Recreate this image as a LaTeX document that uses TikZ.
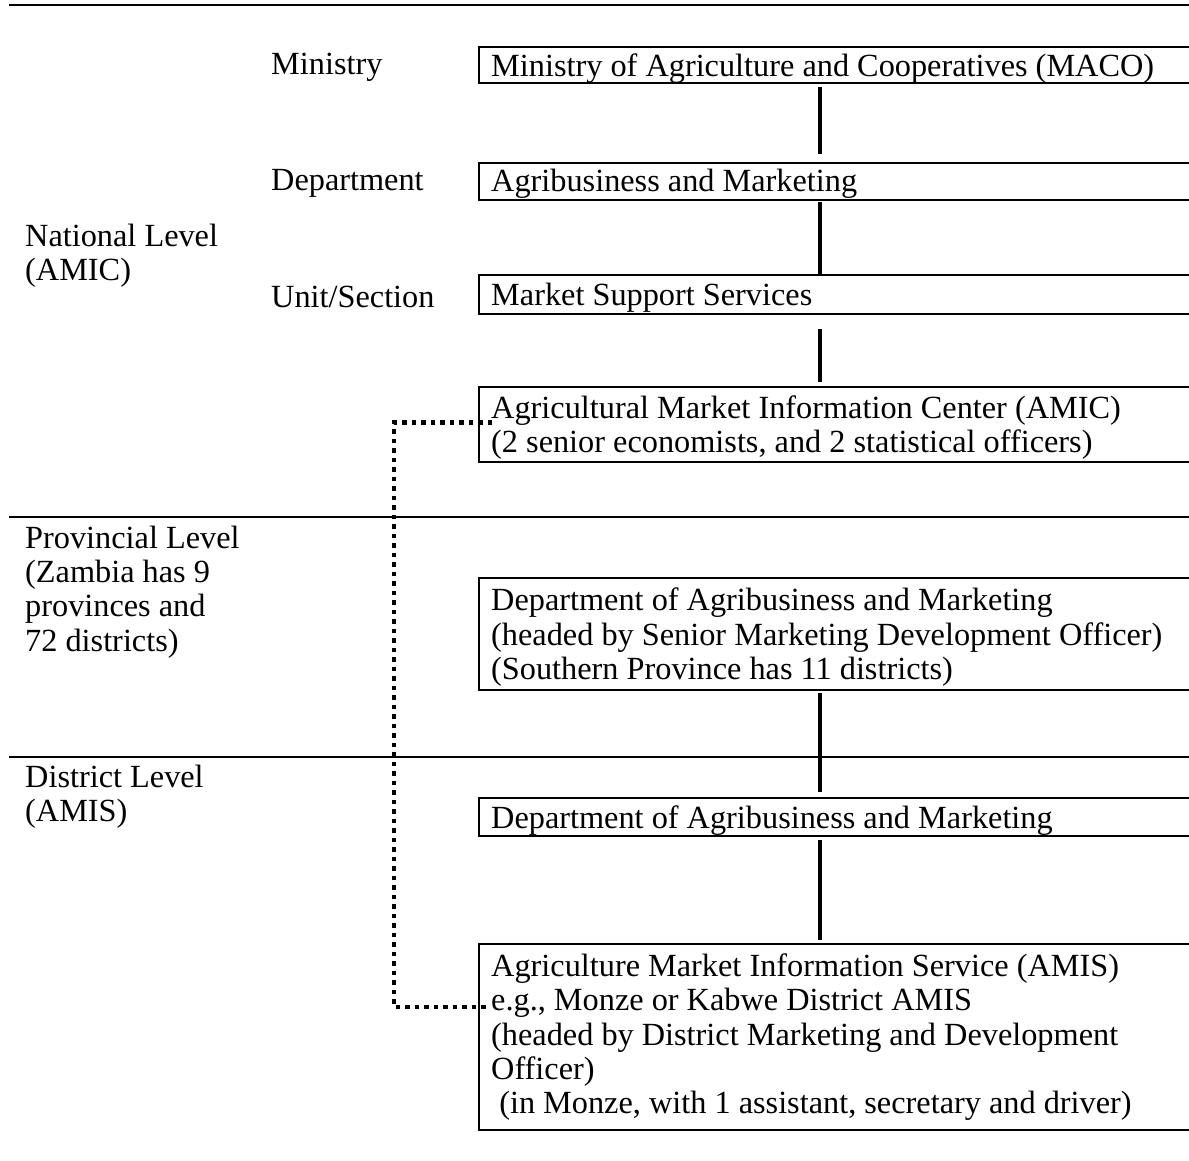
\documentclass[tikz,border=0pt]{standalone}
\usepackage{fontspec}
\setmainfont{Liberation Serif}
\newcommand{\fsz}{\fontsize{32.3pt}{34.4pt}\selectfont}
\begin{document}
\begin{tikzpicture}[x=1pt,y=-1pt,
  box/.style={draw, line width=2.3pt, anchor=north west, minimum width=726pt, inner sep=0pt},
  txt/.style={anchor=west, inner sep=0pt, align=left, font=\fsz},
  lab/.style={anchor=west, inner sep=0pt, align=left, font=\fsz},
  conn/.style={line width=4.2pt},
  rule/.style={line width=2.3pt},
  dotline/.style={line width=4.5pt, dash pattern=on 4.5pt off 5pt}]
\useasboundingbox (0,0) rectangle (1189,1160);
% section rules
\draw[rule] (9,5) -- (1200,5);
\draw[rule] (9,517) -- (1200,517);
\draw[rule] (9,757) -- (1200,757);
% boxes
\node[box, minimum height=36pt] (b1) at (478,46) {};
\node[box, minimum height=37pt] (b2) at (478,162) {};
\node[box, minimum height=39pt] (b3) at (478,274) {};
\node[box, minimum height=75pt] (b4) at (478,386) {};
\node[box, minimum height=112pt] (b5) at (478,577) {};
\node[box, minimum height=38pt] (b6) at (478,797) {};
\node[box, minimum height=186pt] (b7) at (478,943) {};
% box texts
\node[txt] (t1) at ([xshift=13pt,yshift=-3pt]b1.west) {Ministry of Agriculture and Cooperatives (MACO)};
\node[txt] (t2) at ([xshift=13pt,yshift=-2pt]b2.west) {Agribusiness and Marketing};
\node[txt] (t3) at ([xshift=13pt,yshift=-3pt]b3.west) {Market Support Services};
\node[txt] (t4) at ([xshift=13pt,yshift=-3pt]b4.west) {Agricultural Market Information Center (AMIC)\\(2 senior economists, and 2 statistical officers)};
\node[txt] (t5) at ([xshift=13pt,yshift=-3pt]b5.west) {Department of Agribusiness and Marketing\\(headed by Senior Marketing Development Officer)\\(Southern Province has 11 districts)};
\node[txt] (t6) at ([xshift=13pt,yshift=-3pt]b6.west) {Department of Agribusiness and Marketing};
\node[txt] (t7) at ([xshift=13pt,yshift=0pt]b7.west) {Agriculture Market Information Service (AMIS)\\e.g., Monze or Kabwe District AMIS\\(headed by District Marketing and Development\\Officer)\\\hspace*{0.25em}(in Monze, with 1 assistant, secretary and driver)};
% labels
\node[lab] (lm) at (271,67) {Ministry};
\node[lab] (ld) at (271,183) {Department};
\node[lab] (lu) at (271,297) {Unit/Section};
\node[lab] (ln) at (25,256) {National Level\\(AMIC)};
\node[lab] (lp) at (25,592) {Provincial Level\\(Zambia has 9\\provinces and\\72 districts)};
\node[lab] (ldi) at (25,797) {District Level\\(AMIS)};
% connectors
\coordinate (cx) at (820,0);
\draw[conn, shorten <=3pt, shorten >=8pt] (b1.south -| cx) -- (b2.north -| cx);
\draw[conn, shorten <=1pt] (b2.south -| cx) -- (b3.north -| cx);
\draw[conn, shorten <=14pt, shorten >=4pt] (b3.south -| cx) -- (b4.north -| cx);
\draw[conn, shorten <=2pt, shorten >=5pt] (b5.south -| cx) -- (b6.north -| cx);
\draw[conn, shorten <=3pt, shorten >=3pt] (b6.south -| cx) -- (b7.north -| cx);
% dotted link
\coordinate (dx) at (394,0);
\coordinate (da) at ([xshift=14pt,yshift=2pt]b4.west);
\coordinate (db) at ([xshift=9pt,yshift=30pt]b7.west);
\draw[dotline] (da) -- (da -| dx) -- (db -| dx) -- (db);
\end{tikzpicture}
\end{document}
